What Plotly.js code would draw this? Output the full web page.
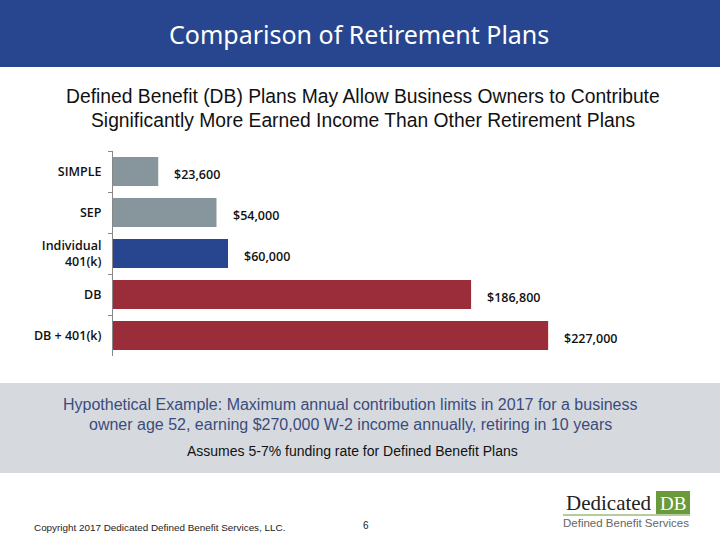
<!DOCTYPE html>
<html>
<head>
<meta charset="utf-8">
<script src="https://cdn.plot.ly/plotly-3.0.1.min.js"></script>
<style>
html,body{margin:0;padding:0;background:#fff;}
#chart{width:720px;height:540px;}
</style>
</head>
<body>
<div id="chart"></div>
<script>
// ---- data ----
const categories = ["SIMPLE", "SEP", "Individual<br>401(k)", "DB", "DB + 401(k)"];
const contributions = [23600, 54000, 60000, 186800, 227000];
const valueLabels = ["$23,600", "$54,000", "$60,000", "$186,800", "$227,000"];
const barColors = ["#87969c", "#87969c", "#27468f", "#9b2d3a", "#9b2d3a"];

// ---- layout helpers (pixel -> paper) ----
const L = 113, R = 690, T = 151, B = 356;
const px = x => (x - L) / (R - L);
const py = y => (B - y) / (B - T);

const trace = {
  type: "bar",
  orientation: "h",
  y: categories,
  x: contributions,
  marker: {color: barColors},
  width: 0.707,
  hoverinfo: "none"
};

const annotations = [];
categories.forEach((c, i) => {
  annotations.push({
    x: contributions[i], y: c, xref: "x", yref: "y",
    text: valueLabels[i], showarrow: false,
    xanchor: "left", yanchor: "middle", xshift: 14, yshift: -3,
    font: {family: "Open Sans", size: 12.5, color: "#111", weight: 600}
  });
});

function txt(x, y, text, size, color, family, extra) {
  return Object.assign({
    x: px(x), y: py(y), xref: "paper", yref: "paper", text: text,
    showarrow: false, xanchor: "center", yanchor: "middle",
    font: {family: family, size: size, color: color}
  }, extra || {});
}

annotations.push(txt(359, 34, "Comparison of Retirement Plans", 25, "#ffffff", "Noto Sans"));
annotations.push(txt(363, 96, "Defined Benefit (DB) Plans May Allow Business Owners to Contribute", 19.3, "#111", "Liberation Sans"));
annotations.push(txt(363, 120, "Significantly More Earned Income Than Other Retirement Plans", 19.3, "#111", "Liberation Sans"));
annotations.push(txt(350, 404, "Hypothetical Example: Maximum annual contribution limits in 2017 for a business", 16, "#3b4c7c", "Liberation Sans"));
annotations.push(txt(350, 424, "owner age 52, earning $270,000 W-2 income annually, retiring in 10 years", 16, "#3b4c7c", "Liberation Sans"));
annotations.push(txt(352, 451, "Assumes 5-7% funding rate for Defined Benefit Plans", 14, "#111", "Liberation Sans"));
annotations.push(txt(32, 527, "Copyright 2017 Dedicated Defined Benefit Services, LLC.", 9.9, "#222", "Liberation Sans", {xanchor: "left"}));
annotations.push(txt(366, 525, "6", 10, "#222", "Liberation Sans"));
annotations.push(txt(609, 503, "Dedicated", 21, "#222", "Liberation Serif"));
annotations.push(txt(673, 503, "DB", 19, "#ffffff", "Liberation Serif"));
annotations.push(txt(626, 523, "Defined Benefit Services", 11.5, "#666", "Liberation Sans"));

const shapes = [
  {type: "rect", xref: "paper", yref: "paper", x0: px(0), x1: px(720), y0: py(0), y1: py(67),
   fillcolor: "#27468f", line: {width: 0}, layer: "below"},
  {type: "rect", xref: "paper", yref: "paper", x0: px(0), x1: px(720), y0: py(383), y1: py(473),
   fillcolor: "#d6dadf", line: {width: 0}, layer: "below"},
  {type: "rect", xref: "paper", yref: "paper", x0: px(656), x1: px(690), y0: py(491), y1: py(514),
   fillcolor: "#6a9a3c", line: {width: 0}, layer: "below"},
  {type: "line", xref: "paper", yref: "paper", x0: px(563), x1: px(690), y0: py(515), y1: py(515),
   line: {color: "#6a9a3c", width: 1}}
];

const layout = {
  width: 720, height: 540,
  margin: {l: L, r: 720 - R, t: T, b: 540 - B, pad: 0},
  paper_bgcolor: "#ffffff", plot_bgcolor: "#ffffff",
  showlegend: false,
  xaxis: {range: [0, 301000], visible: false, fixedrange: true},
  yaxis: {
    type: "category", autorange: "reversed",
    showline: true, linecolor: "#888", linewidth: 1,
    ticks: "outside", tickson: "boundaries", ticklen: 4, tickcolor: "#888",
    showgrid: false, zeroline: false,
    tickfont: {family: "Open Sans", size: 12.5, color: "#111", weight: 600},
    ticklabelstandoff: 8
  },
  annotations: annotations,
  shapes: shapes
};

Plotly.newPlot("chart", [trace], layout, {displayModeBar: false, staticPlot: true});
</script>
</body>
</html>
